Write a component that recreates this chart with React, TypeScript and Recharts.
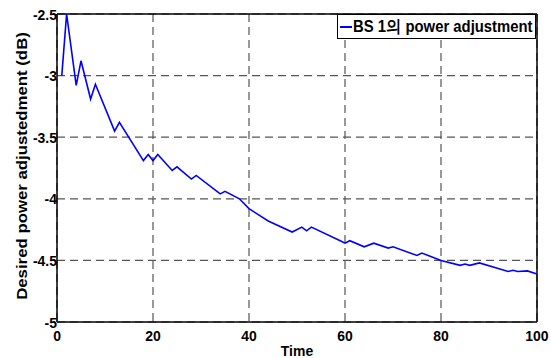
import { LineChart, Line, XAxis, YAxis, CartesianGrid, ReferenceLine, Legend, Label } from "recharts";

const times = [1, 2, 4, 5, 7, 8, 12, 13, 18, 19, 20, 21, 24, 25, 28, 29, 34, 35, 38, 40, 44, 49, 51, 52, 53, 59, 60, 61, 64, 66, 69, 70, 75, 76, 80, 84, 85, 86, 88, 94, 95, 96, 98, 100];
const adjust = [-3.0, -2.5, -3.08, -2.88, -3.19, -3.07, -3.45, -3.38, -3.69, -3.64, -3.69, -3.64, -3.77, -3.74, -3.84, -3.81, -3.96, -3.94, -4.0, -4.08, -4.18, -4.27, -4.23, -4.26, -4.23, -4.34, -4.36, -4.34, -4.39, -4.36, -4.4, -4.39, -4.46, -4.44, -4.5, -4.54, -4.53, -4.54, -4.52, -4.59, -4.58, -4.59, -4.585, -4.61];
const xTicks = [0, 20, 40, 60, 80, 100];
const yTicks = [-5, -4.5, -4, -3.5, -3, -2.5];
const seriesName = "BS 1의 power adjustment";
const xTitle = "Time";
const yTitle = "Desired power adjustedment (dB)";

const data = times.map((t, i) => ({ t, v: adjust[i] }));

// the original figure is squeezed a little horizontally
const squeeze = 0.9;
const font = "'Liberation Sans', Arial, sans-serif";
const textStyle = { fill: "#000", fontWeight: 700, fontFamily: font };

function XTick(props: any) {
  const { x, y, payload } = props;
  return (
    <g transform={`translate(${x},${y})`}>
      <text transform={`scale(${squeeze},1)`} textAnchor="middle" y={19} fontSize={15.5} style={textStyle}>
        {payload.value}
      </text>
    </g>
  );
}

function YTick(props: any) {
  const { x, y, payload } = props;
  return (
    <g transform={`translate(${x},${y})`}>
      <text transform={`scale(${squeeze},1)`} textAnchor="end" x={0} y={5.5} fontSize={15.5} style={textStyle}>
        {payload.value}
      </text>
    </g>
  );
}

function XTitle(props: any) {
  const { viewBox } = props;
  const cx = viewBox.x + viewBox.width / 2;
  return (
    <text transform={`translate(${cx},356) scale(${squeeze},1)`} textAnchor="middle" fontSize={15.5} style={textStyle}>
      {xTitle}
    </text>
  );
}

function YTitle(props: any) {
  const { viewBox } = props;
  const cy = viewBox.y + viewBox.height / 2 - 2;
  return (
    <text transform={`translate(27,${cy}) scale(${squeeze},1) rotate(-90)`} textAnchor="middle" fontSize={16.8} style={textStyle}>
      {yTitle}
    </text>
  );
}

function LegendBox() {
  return (
    <div
      style={{
        border: "1.5px solid #000",
        background: "#fff",
        height: 25,
        boxSizing: "border-box",
        position: "relative",
        overflow: "hidden",
      }}
    >
      <span style={{ position: "absolute", left: 2, top: 11, width: 12, height: 0, borderTop: "2px solid #0000ff" }} />
      <span
        style={{
          position: "absolute",
          left: 15,
          top: 2,
          fontFamily: font,
          fontWeight: 700,
          fontSize: 16.5,
          lineHeight: "19px",
          color: "#000",
          whiteSpace: "nowrap",
          transform: `scaleX(${squeeze})`,
          transformOrigin: "left center",
        }}
      >
        {seriesName}
      </span>
    </div>
  );
}

export default function App() {
  return (
    <div style={{ position: "absolute", left: 0, top: 0, background: "#fff" }}>
      <LineChart width={551} height={358} data={data} margin={{ top: 14, right: 14, left: 0, bottom: 0 }}>
        <CartesianGrid stroke="#555" strokeDasharray="8 5" strokeWidth={1.2} />
        <XAxis
          dataKey="t"
          type="number"
          domain={[0, 100]}
          ticks={xTicks}
          height={36}
          tickSize={0}
          tickMargin={0}
          tick={<XTick />}
          axisLine={{ stroke: "#000", strokeWidth: 1.5 }}
          interval={0}
        >
          <Label content={<XTitle />} />
        </XAxis>
        <YAxis
          type="number"
          domain={[-5, -2.5]}
          ticks={yTicks}
          width={57}
          tickSize={0}
          tickMargin={0}
          tick={<YTick />}
          axisLine={{ stroke: "#000", strokeWidth: 1.5 }}
          interval={0}
        >
          <Label content={<YTitle />} />
        </YAxis>
        <ReferenceLine y={-2.5} stroke="#000" strokeWidth={1.5} />
        <ReferenceLine x={100} stroke="#000" strokeWidth={1.5} />
        <Line
          type="linear"
          dataKey="v"
          name={seriesName}
          stroke="#0000ff"
          strokeWidth={1.6}
          dot={false}
          isAnimationActive={false}
        />
        <Legend
          layout="vertical"
          align="center"
          verticalAlign="middle"
          content={() => <LegendBox />}
          wrapperStyle={{ position: "absolute", top: 14, left: 337, width: 199 }}
        />
      </LineChart>
    </div>
  );
}
